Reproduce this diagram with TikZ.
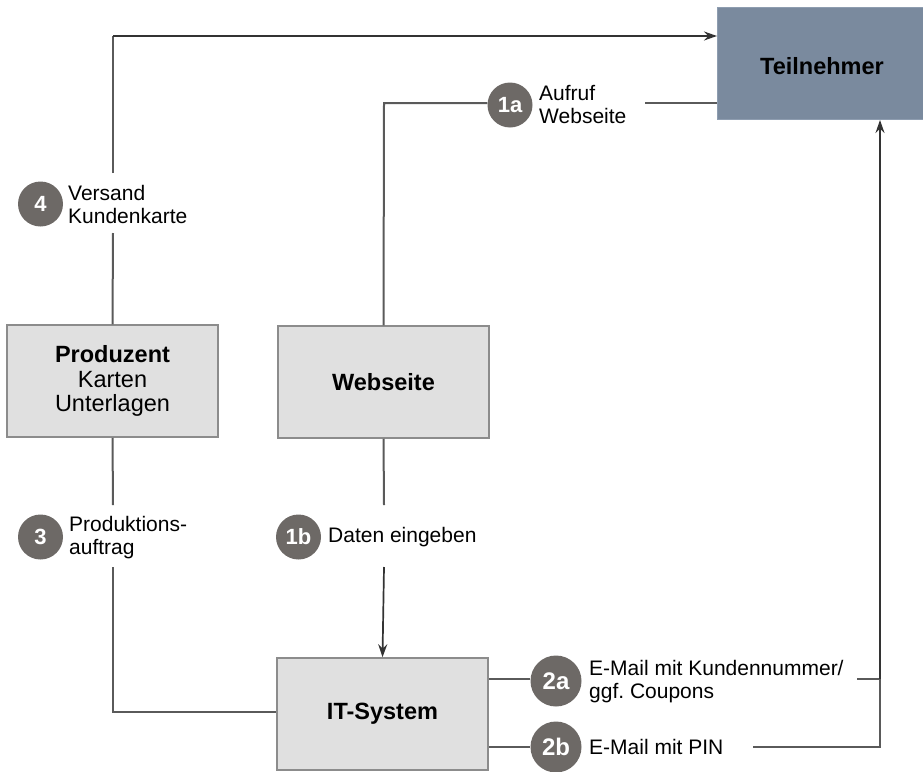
\documentclass[tikz,border=0pt]{standalone}
\usepackage{fontspec}
\setmainfont{Liberation Sans}
\usetikzlibrary{arrows.meta}
\definecolor{boxfill}{HTML}{E0E0E0}
\definecolor{boxdraw}{HTML}{8C8C8C}
\definecolor{teilfill}{HTML}{7A8A9E}
\definecolor{teildraw}{HTML}{8E9DB0}
\definecolor{circfill}{HTML}{6D6966}
\definecolor{linecol}{HTML}{5A5A5A}
\definecolor{arrowcol}{HTML}{333333}
\frenchspacing
\begin{document}
\begin{tikzpicture}[x=1pt,y=-1pt,
  graybox/.style={draw=boxdraw,fill=boxfill,line width=1.5pt,inner sep=0pt,align=center,
    font=\fontsize{23.5}{24.5}\selectfont},
  teilbox/.style={draw=teildraw,fill=teilfill,line width=1pt,inner sep=0pt},
  stepcirc/.style={circle,fill=circfill,inner sep=0pt,text=white,font=\fontsize{22}{22}\selectfont\bfseries},
  lbl/.style={anchor=west,inner sep=0pt,align=left,font=\fontsize{21}{23}\selectfont},
  conn/.style={draw=linecol,line width=2pt},
  arr/.style={draw=arrowcol,line width=1.7pt,-{Stealth[length=13pt,width=9pt]}}
]
\useasboundingbox (0,0) rectangle (923,771);

% boxes
\path[teilbox] (717,7) rectangle (935,119);
\node[inner sep=0pt,font=\fontsize{23.5}{24.5}\selectfont\bfseries] (teiltxt) at (822,66) {Teilnehmer};
\coordinate (teilW1) at (717,36);
\coordinate (teilW2) at (717,103);
\coordinate (teilS) at (880,120);

\node[graybox,minimum width=211pt,minimum height=112pt] (prod) at (112.5,381)
  {\textbf{Produzent}\\Karten\\Unterlagen};
\node[graybox,minimum width=211pt,minimum height=112pt,font=\fontsize{23.5}{24.5}\selectfont\bfseries] (web) at (383.5,382) {Webseite};
\node[graybox,minimum width=211pt,minimum height=112pt,font=\fontsize{23.5}{24.5}\selectfont\bfseries] (it) at (382.5,714) {IT-System};

% step circles
\node[stepcirc,minimum size=45pt] (c4) at (40.5,204) {4};
\node[stepcirc,minimum size=45pt] (c1a) at (510,105) {1a};
\node[stepcirc,minimum size=45pt] (c3) at (40.5,537) {3};
\node[stepcirc,minimum size=45pt] (c1b) at (298.5,537) {1b};
\node[stepcirc,minimum size=51pt,font=\fontsize{24}{24}\selectfont\bfseries] (c2a) at (556,681) {2a};
\node[stepcirc,minimum size=51pt,font=\fontsize{24}{24}\selectfont\bfseries] (c2b) at (556,747) {2b};

% labels
\node[lbl] (l4) at (68,204) {Versand\\Kundenkarte};
\node[lbl] (l1a) at (539,105) {Aufruf\\Webseite};
\node[lbl] (l3) at (69,538) {Produktions-\\auftrag};
\node[lbl] (l1b) at (328,537) {Daten eingeben};
\node[lbl] (l2a) at (589,682) {E-Mail mit Kundennummer/\\ggf. Coupons};
\node[lbl] (l2b) at (589,747) {E-Mail mit PIN};

% gap coordinates
\coordinate (p4lo) at (113,233);
\coordinate (p4hi) at (113,173);
\coordinate (corner1) at (113,36);
\coordinate (w1corner) at (384,103);
\coordinate (w1end) at (645,103);
\coordinate (p3hi) at (113,505);
\coordinate (p3lo) at (113,567);
\coordinate (corner3) at (113,712);
\coordinate (w1bhi) at (384,505);
\coordinate (w1blo) at (384,567);
\coordinate (e2aend) at (857,679);
\coordinate (r2a) at (880,679);
\coordinate (e2bend) at (753,747);
\coordinate (r2b) at (880,747);

% connectors
\draw[conn] (prod.north) -- (p4lo);
\draw[conn] (p4hi) -- (corner1);
\draw[arr] (corner1) -- (teilW1);

\draw[conn] (web.north) -- (w1corner) -- (c1a.west |- w1corner);
\draw[conn] (w1end) -- (teilW2);

\draw[conn] (prod.south) -- (p3hi);
\draw[conn] (p3lo) -- (corner3) -- (it.west |- corner3);

\draw[conn] (web.south) -- (w1bhi);
\draw[arr] (w1blo) -- (it.north);

\draw[conn] (it.east |- r2a) -- (c2a.west |- r2a);
\draw[conn] (e2aend) -- (r2a);
\draw[conn] (it.east |- c2b.west) -- (c2b.west);
\draw[conn] (e2bend) -- (r2b) -- (r2a);
\draw[arr] (r2a) -- (teilS);
\end{tikzpicture}
\end{document}
